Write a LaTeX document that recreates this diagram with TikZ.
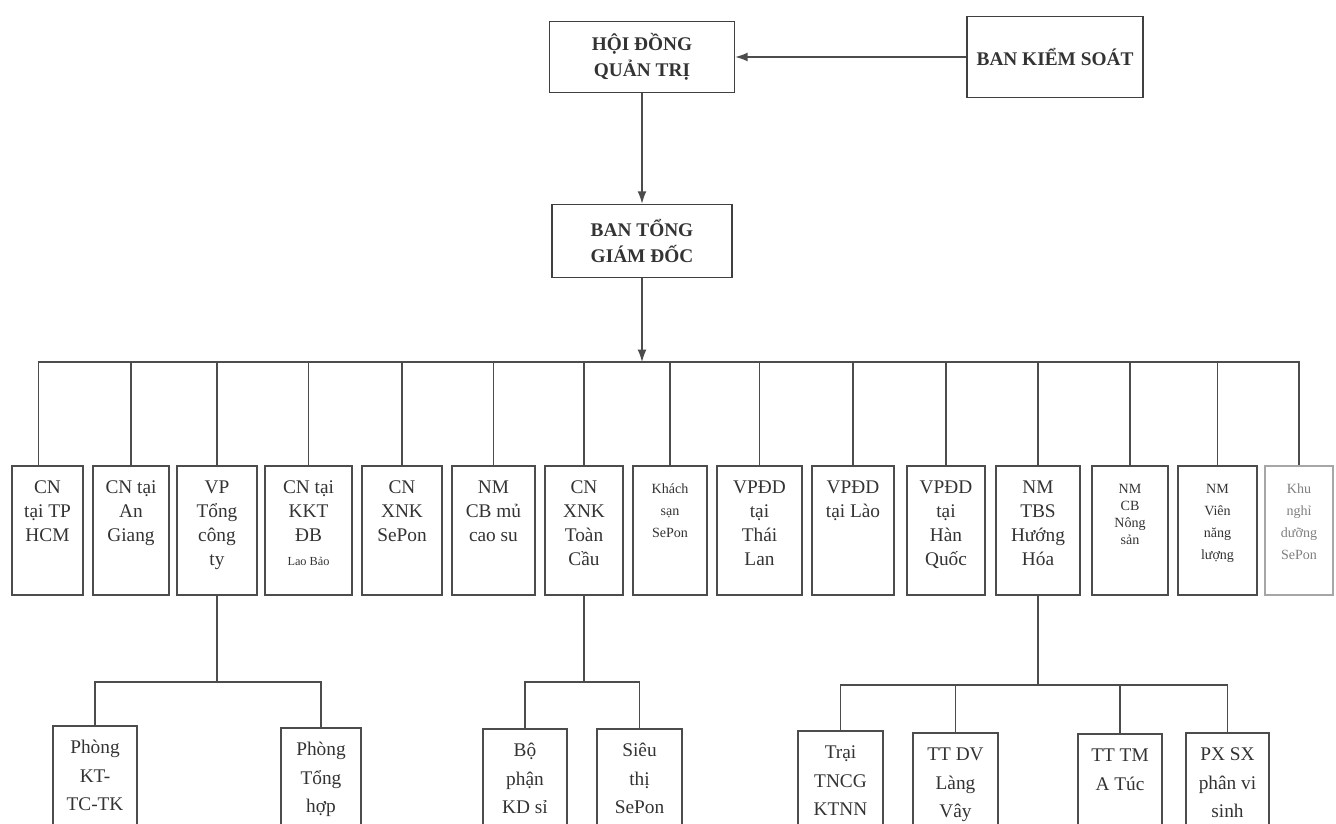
\documentclass[tikz,border=0pt]{standalone}
\usepackage{fontspec}
\setmainfont{Liberation Serif}
\usetikzlibrary{arrows.meta}

% text of a box, set from its top edge
\newcommand{\boxtxt}[3]{\parbox[t][#1][t]{#2}{\centering\rule{0pt}{16pt}#3}}

\begin{document}
\begin{tikzpicture}[x=0.02cm,y=-0.02cm,
    head/.style={draw=black!75,line width=.9pt,inner sep=0pt,align=center,
        text=black!80,font=\fontsize{11}{15}\selectfont\bfseries},
    unit/.style={draw=black!70,line width=.9pt,inner sep=0pt,anchor=north,
        text=black!80,font=\fontsize{11}{13.6}\selectfont},
    small/.style={font=\fontsize{8}{12.5}\selectfont},
    sub/.style={unit,font=\fontsize{11}{16}\selectfont},
    link/.style={draw=black!70,line width=.7pt},
    arr/.style={link,-{Latex[length=7pt,width=5pt]}}]

    \useasboundingbox (0,0) rectangle (1336,824);
    \clip (0,0) rectangle (1336,824);

    % top of the chart
    \node [head,minimum width=3.7cm,minimum height=1.42cm] (hdqt) at (642,57) {HỘI ĐỒNG\\QUẢN TRỊ};
    \node [head,minimum width=3.52cm,minimum height=1.62cm] (bks) at (1055,57) {BAN KIỂM SOÁT};
    \node [head,minimum width=3.6cm,minimum height=1.46cm] (tgd) at (642,241) {BAN TỔNG\\GIÁM ĐỐC};

    \draw [arr] (bks.west) -- (hdqt.east);
    \draw [arr] (hdqt.south) -- (tgd.north);

    % units under the board of directors
    \node [unit] (hcm) at (47.5,465) {\boxtxt{2.58cm}{1.42cm}{CN\\tại TP\\HCM}};
    \node [unit] (angiang) at (131,465) {\boxtxt{2.58cm}{1.52cm}{CN tại\\An\\Giang}};
    \node [unit] (vp) at (217,465) {\boxtxt{2.58cm}{1.6cm}{VP\\Tổng\\công\\ty}};
    \node [unit] (laobao) at (308.5,465) {\boxtxt{2.58cm}{1.74cm}{CN tại\\KKT\\ĐB\\{\fontsize{7}{9}\selectfont Lao Bảo}}};
    \node [unit] (xnksp) at (402,465) {\boxtxt{2.58cm}{1.6cm}{CN\\XNK\\SePon}};
    \node [unit] (caosu) at (493.5,465) {\boxtxt{2.58cm}{1.66cm}{NM\\CB mủ\\cao su}};
    \node [unit] (toancau) at (584,465) {\boxtxt{2.58cm}{1.56cm}{CN\\XNK\\Toàn\\Cầu}};
    \node [unit,small] (khachsan) at (670,465) {\boxtxt{2.58cm}{1.48cm}{Khách\\sạn\\SePon}};
    \node [unit] (thailan) at (759.5,465) {\boxtxt{2.58cm}{1.7cm}{VPĐD\\tại\\Thái\\Lan}};
    \node [unit] (lao) at (853,465) {\boxtxt{2.58cm}{1.64cm}{VPĐD\\tại Lào}};
    \node [unit] (hanquoc) at (946,465) {\boxtxt{2.58cm}{1.56cm}{VPĐD\\tại\\Hàn\\Quốc}};
    \node [unit] (tbs) at (1038,465) {\boxtxt{2.58cm}{1.68cm}{NM\\TBS\\Hướng\\Hóa}};
    \node [unit,font=\fontsize{8}{9.6}\selectfont] (nongsan) at (1130,465) {\boxtxt{2.58cm}{1.52cm}{NM\\CB\\Nông\\sản}};
    \node [unit,small] (nangluong) at (1217.5,465) {\boxtxt{2.58cm}{1.58cm}{NM\\Viên\\năng\\lượng}};
    \node [unit,small,draw=black!35,text=black!50] (nghiduong) at (1299,465) {\boxtxt{2.58cm}{1.36cm}{Khu\\nghỉ\\dưỡng\\SePon}};

    % bus under the board of directors
    \coordinate (bus) at (tgd.south |- 0,362);
    \coordinate (hcmtop) at ([xshift=-0.18cm]hcm.north);
    \draw [arr] (tgd.south) -- (bus);
    \draw [link] (hcmtop) |- (bus) -| (nghiduong.north);
    \foreach \n in {angiang,vp,laobao,xnksp,caosu,toancau,khachsan,thailan,lao,hanquoc,tbs,nongsan,nangluong}
        \draw [link] (\n.north) -- (\n.north |- bus);

    % departments of VP Tong cong ty
    \node [sub] (ktc) at (95,725) {\boxtxt{2.6cm}{1.68cm}{Phòng\\KT-\\TC-TK}};
    \node [sub] (tonghop) at (321,727) {\boxtxt{2.6cm}{1.6cm}{Phòng\\Tổng\\hợp}};
    \coordinate (vpbus) at (vp.south |- 0,682);
    \draw [link] (vp.south) -- (vpbus);
    \draw [link] (ktc.north) |- (vpbus) -| (tonghop.north);

    % departments of CN XNK Toan Cau
    \node [sub] (kdsi) at (525,728) {\boxtxt{2.6cm}{1.68cm}{Bộ\\phận\\KD sỉ}};
    \node [sub] (sieuthi) at (639.5,728) {\boxtxt{2.6cm}{1.7cm}{Siêu\\thị\\SePon}};
    \coordinate (tcbus) at (toancau.south |- 0,682);
    \draw [link] (toancau.south) -- (tcbus);
    \draw [link] (kdsi.north) |- (tcbus) -| (sieuthi.north);

    % units of NM TBS
    \node [sub] (trai) at (840.5,730) {\boxtxt{2.6cm}{1.7cm}{Trại\\TNCG\\KTNN}};
    \node [sub] (langvay) at (955.5,732) {\boxtxt{2.6cm}{1.7cm}{TT DV\\Làng\\Vây}};
    \node [sub] (atuc) at (1120,733) {\boxtxt{2.6cm}{1.68cm}{TT TM\\A Túc}};
    \node [sub] (visinh) at (1227.5,732) {\boxtxt{2.6cm}{1.66cm}{PX SX\\phân vi\\sinh}};
    \coordinate (tbsbus) at (tbs.south |- 0,685);
    \draw [link] (tbs.south) -- (tbsbus);
    \draw [link] (trai.north) |- (tbsbus) -| (visinh.north);
    \draw [link] (langvay.north) -- (langvay.north |- tbsbus);
    \draw [link] (atuc.north) -- (atuc.north |- tbsbus);

\end{tikzpicture}
\end{document}
